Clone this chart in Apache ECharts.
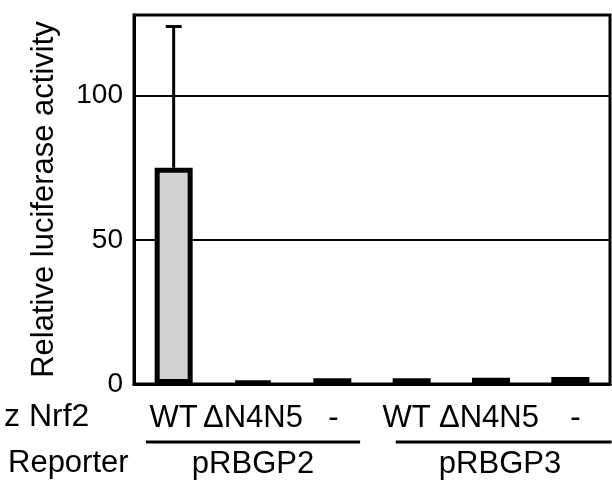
<!DOCTYPE html>
<html>
<head>
<meta charset="utf-8">
<script src="https://cdn.jsdelivr.net/npm/echarts@6/dist/echarts.min.js"></script>
<style>
html,body{margin:0;padding:0;background:#fff;}
#chart{width:612px;height:483px;}
</style>
</head>
<body>
<div id="chart"></div>
<script>
// ---- data ----
const categories = ['WT', 'ΔN4N5', '-', 'WT', 'ΔN4N5', '-'];
const reporterGroups = ['pRBGP2', 'pRBGP3'];
const groupOfCategory = [0, 0, 0, 1, 1, 1];
const activity = [75, 0.8, 2.0, 2.0, 2.2, 2.4];
const errorUpper = [124, null, null, null, null, null];
const yTicks = [0, 50, 100];
const yMax = 128;
const rowLabels = ['z Nrf2', 'Reporter'];
const yAxisTitle = 'Relative luciferase activity';

const FONT = 'Liberation Sans';
const FS = 31;
const chart = echarts.init(document.getElementById('chart'), null, {renderer: 'canvas'});

// label shifts (visual, in px) so text sits as in the figure
const labelShift = [0, 0, 1, -5, -2, 5];
const rich = {};
labelShift.forEach((s, i) => {
  rich['c' + i] = {
    fontFamily: FONT, fontSize: FS, color: '#000',
    padding: s < 0 ? [0, -2 * s, 0, 0] : [0, 0, 0, 2 * s]
  };
});

const barData = activity.map((v, i) => ({
  value: v,
  itemStyle: i === 0
    ? {color: '#d2d2d2', borderColor: '#000', borderWidth: 5}
    : {color: '#000', borderColor: '#000', borderWidth: 5}
}));

const errData = [];
errorUpper.forEach((u, i) => { if (u != null) errData.push([i, activity[i], u]); });

chart.setOption({
  animation: false,
  backgroundColor: '#fff',
  grid: {left: 134, right: 2, top: 15, bottom: 99, show: true, borderColor: '#000', borderWidth: 3, containLabel: false},
  xAxis: [
    {
      type: 'category', data: categories, position: 'bottom',
      axisLine: {show: true, lineStyle: {color: '#000', width: 3}},
      axisTick: {show: false},
      axisLabel: {
        interval: 0, margin: 19, color: '#000', fontFamily: FONT, fontSize: FS,
        formatter: (val, idx) => '{c' + idx + '|' + val + '}',
        rich: rich
      }
    },
    {
      type: 'category', data: reporterGroups, position: 'bottom', offset: 48,
      axisLine: {show: false}, axisTick: {show: false},
      axisLabel: {
        interval: 0, margin: 17, color: '#000', fontFamily: FONT, fontSize: FS,
        formatter: (val, idx) => idx === 1 ? '{r|' + val + '}' : '{l|' + val + '}',
        rich: {
          l: {fontFamily: FONT, fontSize: FS, color: '#000'},
          r: {fontFamily: FONT, fontSize: FS, color: '#000', padding: [0, 0, 0, 18]}
        }
      }
    }
  ],
  yAxis: {
    type: 'value', min: 0, max: yMax, interval: 50,
    name: yAxisTitle, nameLocation: 'middle', nameRotate: 90, nameGap: 74,
    nameTextStyle: {fontFamily: FONT, fontSize: 31, color: '#000'},
    axisLine: {show: true, lineStyle: {color: '#000', width: 3}},
    axisTick: {show: false},
    axisLabel: {
      margin: 11, color: '#000', fontFamily: FONT, fontSize: 28,
      formatter: v => yTicks.indexOf(v) >= 0 ? String(v) : ''
    },
    splitLine: {show: true, lineStyle: {color: '#000', width: 2}}
  },
  series: [
    {
      type: 'bar', xAxisIndex: 0, data: barData, barWidth: 38, z: 2
    },
    {
      type: 'custom', xAxisIndex: 0, data: errData, z: 3,
      renderItem: function (params, api) {
        const x = api.value(0);
        const lo = api.coord([x, api.value(1)]);
        const hi = api.coord([x, api.value(2)]);
        const cap = 8;
        return {
          type: 'group',
          children: [
            {type: 'line', shape: {x1: lo[0], y1: lo[1], x2: hi[0], y2: hi[1]}, style: {stroke: '#000', lineWidth: 3}},
            {type: 'line', shape: {x1: hi[0] - cap, y1: hi[1], x2: hi[0] + cap, y2: hi[1]}, style: {stroke: '#000', lineWidth: 3}}
          ]
        };
      }
    }
  ]
});

// underlines under each reporter group and row labels
function drawAnnotations() {
  const c = categories.map((_, i) => chart.convertToPixel({xAxisIndex: 0}, i));
  const band = c[1] - c[0];
  const graphics = [];
  reporterGroups.forEach((g, gi) => {
    const idx = groupOfCategory.map((v, i) => v === gi ? i : -1).filter(i => i >= 0);
    const first = c[idx[0]], last = c[idx[idx.length - 1]];
    const left = gi === 0 ? first - 0.35 * band : first - 0.2 * band;
    const right = gi === 0 ? last + 0.35 * band : last + 0.52 * band;
    graphics.push({type: 'line', shape: {x1: left, y1: 442, x2: right, y2: 442}, style: {stroke: '#000', lineWidth: 3}});
  });
  graphics.push({type: 'text', left: 4, top: 401, style: {text: rowLabels[0], font: '32px "Liberation Sans"', fill: '#000'}});
  graphics.push({type: 'text', left: 8, top: 448, style: {text: rowLabels[1], font: '31px "Liberation Sans"', fill: '#000'}});
  chart.setOption({graphic: graphics});
}
drawAnnotations();
</script>
</body>
</html>
